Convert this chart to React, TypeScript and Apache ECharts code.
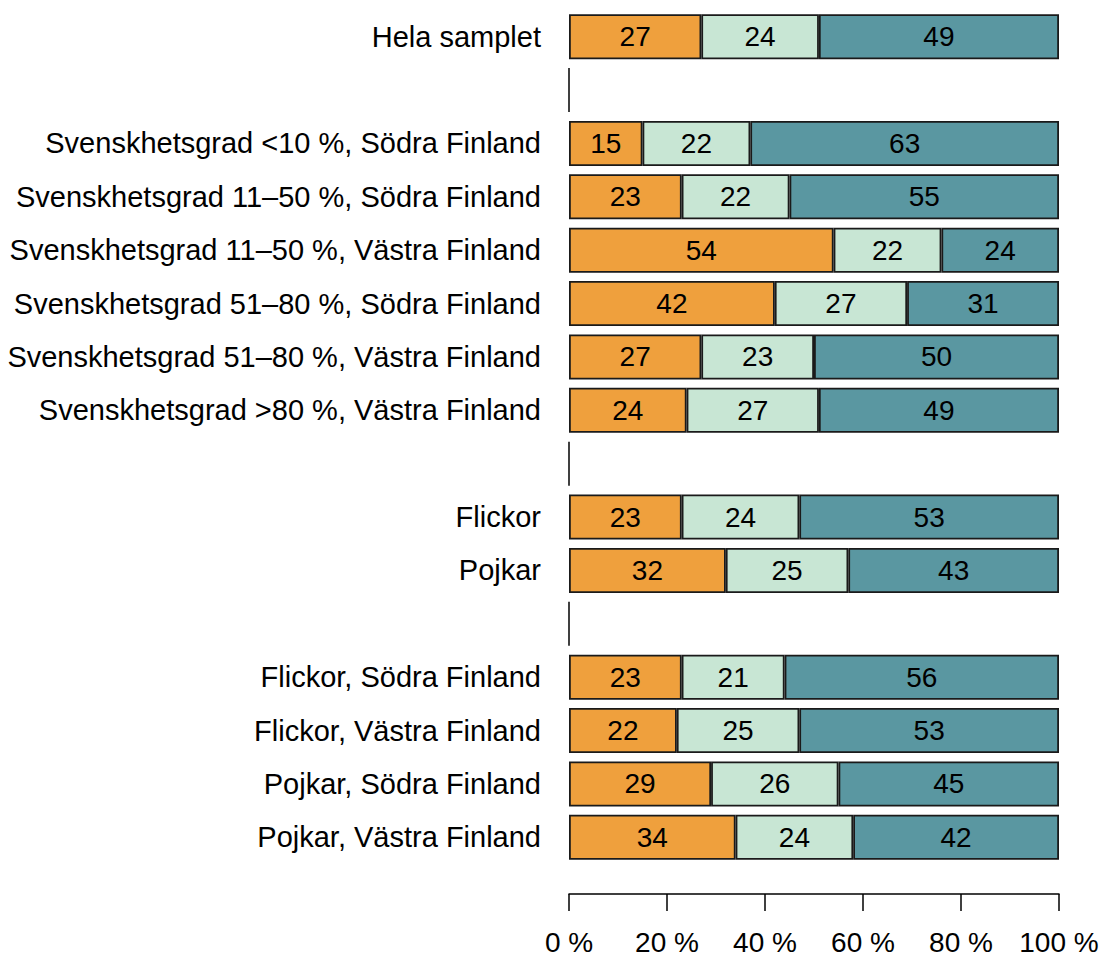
import React, { useEffect, useRef } from "react";
import * as echarts from "echarts";

const categories = [
  "Hela samplet",
  "",
  "Svenskhetsgrad <10 %, Södra Finland",
  "Svenskhetsgrad 11–50 %, Södra Finland",
  "Svenskhetsgrad 11–50 %, Västra Finland",
  "Svenskhetsgrad 51–80 %, Södra Finland",
  "Svenskhetsgrad 51–80 %, Västra Finland",
  "Svenskhetsgrad >80 %, Västra Finland",
  "",
  "Flickor",
  "Pojkar",
  "",
  "Flickor, Södra Finland",
  "Flickor, Västra Finland",
  "Pojkar, Södra Finland",
  "Pojkar, Västra Finland",
];

const seriesA = [27, null, 15, 23, 54, 42, 27, 24, null, 23, 32, null, 23, 22, 29, 34];
const seriesB = [24, null, 22, 22, 22, 27, 23, 27, null, 24, 25, null, 21, 25, 26, 24];
const seriesC = [49, null, 63, 55, 24, 31, 50, 49, null, 53, 43, null, 56, 53, 45, 42];

const gapRows = [1, 8, 11];
const xTicks = [0, 20, 40, 60, 80, 100];

const colors = ["#EFA03D", "#C8E6D4", "#5A97A1"];
const FONT = "Liberation Sans, Arial, sans-serif";
const FS = 29;

export default function App() {
  const ref = useRef<HTMLDivElement>(null);
  useEffect(() => {
    if (!ref.current) return;
    const chart = echarts.init(ref.current, undefined, { renderer: "svg" });
    const mkBar = (name: string, data: (number | null)[], color: string) => ({
      name,
      type: "bar",
      stack: "total",
      data: categories.map((_, i) => (data[i] == null ? "-" : data[i])),
      barWidth: 45,
      itemStyle: { color, borderColor: "#1a1a1a", borderWidth: 1.8 },
      label: {
        show: true,
        position: "inside",
        color: "#000",
        fontSize: 28,
        fontFamily: FONT,
      },
    });
    chart.setOption({
      animation: false,
      textStyle: { fontFamily: FONT },
      grid: { left: 569, right: 45, top: 10, bottom: 94, containLabel: false },
      xAxis: {
        type: "value",
        min: xTicks[0],
        max: xTicks[xTicks.length - 1],
        interval: 20,
        offset: 30,
        axisLine: { show: true, lineStyle: { color: "#000", width: 1.5 } },
        axisTick: { show: true, length: 17, lineStyle: { color: "#000", width: 1.5 } },
        axisLabel: {
          formatter: "{value} %",
          color: "#000",
          fontSize: 28,
          fontFamily: FONT,
          margin: 34,
        },
        splitLine: { show: false },
      },
      yAxis: {
        type: "category",
        inverse: true,
        data: categories,
        axisLine: { show: false },
        axisTick: { show: false },
        axisLabel: { color: "#000", fontSize: FS, fontFamily: FONT, margin: 28 },
      },
      series: [
        mkBar("A", seriesA, colors[0]),
        mkBar("B", seriesB, colors[1]),
        mkBar("C", seriesC, colors[2]),
        {
          type: "custom",
          data: gapRows.map((r) => [0, r]),
          encode: { x: 0, y: 1 },
          renderItem: (params: any, api: any) => {
            const p = api.coord([0, api.value(1)]);
            const h = 44;
            return {
              type: "line",
              shape: { x1: p[0], y1: p[1] - h / 2, x2: p[0], y2: p[1] + h / 2 },
              style: { stroke: "#000", lineWidth: 1.5 },
            };
          },
          silent: true,
        },
      ],
    });
    return () => chart.dispose();
  }, []);
  return (
    <div
      ref={ref}
      style={{ position: "fixed", left: 0, top: 0, width: 1104, height: 958, background: "#fff" }}
    />
  );
}
